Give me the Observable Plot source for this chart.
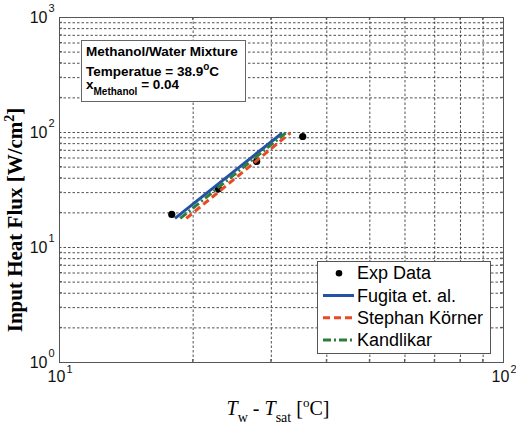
<!DOCTYPE html>
<html>
<head>
<meta charset="utf-8">
<script src="https://cdn.jsdelivr.net/npm/d3@7"></script>
<script src="https://cdn.jsdelivr.net/npm/@observablehq/plot@0.6"></script>
<style>
  body { margin: 0; background: #fff; }
  #chart { width: 516px; height: 432px; }
</style>
</head>
<body>
<div id="chart"></div>
<script>
// Experimental boiling data: wall superheat (°C) vs input heat flux (W/cm²)
const expT = [17.9, 22.8, 27.8, 35.3];
const expQ = [19.4, 32.4, 56.0, 92.3];

// Correlation predictions (end points of each straight log-log line)
const fugitaT = [18.2, 31.7];
const fugitaQ = [17.9, 98.5];
const stephanT = [19.3, 33.1];
const stephanQ = [17.9, 99.0];
const kandlikarT = [18.7, 32.3];
const kandlikarQ = [17.9, 99.0];

// Axis tick values
const xMajor = [10, 100];
const yMajor = [1, 10, 100, 1000];
const xMinor = [20, 30, 40, 50, 60, 70, 80, 90];
const yMinor = [2, 3, 4, 5, 6, 7, 8, 9,
                20, 30, 40, 50, 60, 70, 80, 90,
                200, 300, 400, 500, 600, 700, 800, 900];
const yGridMajor = [10, 100];

const series = [
  {name: "Fugita et. al.", T: fugitaT, Q: fugitaQ, color: "#2352a6", dash: null},
  {name: "Stephan Körner", T: stephanT, Q: stephanQ, color: "#ea4a22", dash: "7,4"},
  {name: "Kandlikar", T: kandlikarT, Q: kandlikarQ, color: "#2f7d3c", dash: "8,3,2,3"}
];

const expData = expT.map((t, i) => ({T: t, Q: expQ[i]}));
const toRows = s => s.T.map((t, i) => ({T: t, Q: s.Q[i]}));

const SANS = "'Liberation Sans', Arial, Helvetica, sans-serif";
const SERIF = "'Liberation Serif', 'Times New Roman', serif";

const gridStyle = {stroke: "#333", strokeWidth: 1, strokeDasharray: "2.5,2", strokeOpacity: 0.85};

const chart = Plot.plot({
  width: 516,
  height: 432,
  marginLeft: 59,
  marginRight: 13,
  marginTop: 17,
  marginBottom: 70,
  x: {type: "log", domain: [10, 100], axis: null},
  y: {type: "log", domain: [1, 1000], axis: null},
  style: {background: "#fff"},
  marks: [
    Plot.ruleY(yMinor.concat(yGridMajor), {y: d => d, ...gridStyle}),
    Plot.ruleX(xMinor, {x: d => d, ...gridStyle}),
    Plot.frame({stroke: "#555", strokeWidth: 1}),
    // y tick labels: base and raised exponent
    Plot.text(yMajor, {y: d => d, frameAnchor: "left", dx: -12, textAnchor: "end",
      text: () => "10", fontSize: 16, fontFamily: SANS, fill: "#111"}),
    Plot.text(yMajor, {y: d => d, frameAnchor: "left", dx: -11, dy: -9, textAnchor: "start",
      text: d => String(Math.round(Math.log10(d))), fontSize: 11, fontFamily: SANS, fill: "#111"}),
    // x tick labels
    Plot.text(xMajor, {x: d => d, frameAnchor: "bottom", dx: -3, dy: 19, textAnchor: "middle",
      text: () => "10", fontSize: 16, fontFamily: SANS, fill: "#111"}),
    Plot.text(xMajor, {x: d => d, frameAnchor: "bottom", dx: 7, dy: 10, textAnchor: "start",
      text: d => String(Math.round(Math.log10(d))), fontSize: 11, fontFamily: SANS, fill: "#111"}),
    // experimental points
    Plot.dot(expData, {x: "T", y: "Q", r: 3.6, fill: "#000", stroke: "none"}),
    // correlation lines
    ...series.map(s => Plot.line(toRows(s), {
      x: "T", y: "Q", stroke: s.color, strokeWidth: 3,
      strokeDasharray: s.dash || undefined, strokeLinecap: "butt"
    }))
  ]
});

document.getElementById("chart").appendChild(chart);

const svg = d3.select(chart);
const xs = chart.scale("x"), ys = chart.scale("y");
const [fx0, fx1] = xs.range, [fy0, fy1] = ys.range; // fy0 = bottom, fy1 = top

// Small inward minor ticks on all four sides of the box
const ticks = svg.append("g").attr("stroke", "#555").attr("stroke-width", 1);
xMinor.forEach(v => {
  const px = xs.apply(v);
  ticks.append("line").attr("x1", px).attr("x2", px).attr("y1", fy0).attr("y2", fy0 - 3);
  ticks.append("line").attr("x1", px).attr("x2", px).attr("y1", fy1).attr("y2", fy1 + 3);
});
yMinor.forEach(v => {
  const py = ys.apply(v);
  ticks.append("line").attr("x1", fx0).attr("x2", fx0 + 3).attr("y1", py).attr("y2", py);
  ticks.append("line").attr("x1", fx1).attr("x2", fx1 - 3).attr("y1", py).attr("y2", py);
});

// Annotation box
const ann = svg.append("g").attr("font-family", SANS).attr("font-weight", "bold")
  .attr("font-size", 13.5).attr("fill", "#000").attr("text-anchor", "start");
ann.append("rect").attr("x", 81.5).attr("y", 40.5).attr("width", 164).attr("height", 61)
  .attr("fill", "#fff").attr("stroke", "#666").attr("stroke-width", 1);
ann.append("text").attr("x", 86).attr("y", 56).text("Methanol/Water Mixture");
const t2 = ann.append("text").attr("x", 86).attr("y", 76);
t2.append("tspan").text("Temperatue = 38.9");
t2.append("tspan").attr("dy", -6).attr("font-size", 10).text("o");
t2.append("tspan").attr("dy", 6).text("C");
const t3 = ann.append("text").attr("x", 86).attr("y", 89);
t3.append("tspan").text("x");
t3.append("tspan").attr("dy", 6).attr("font-size", 10).text("Methanol");
t3.append("tspan").attr("dy", -6).text(" = 0.04");

// Legend
const leg = svg.append("g").attr("font-family", SANS).attr("font-size", 18)
  .attr("fill", "#000").attr("text-anchor", "start");
leg.append("rect").attr("x", 317.5).attr("y", 261.5).attr("width", 173).attr("height", 92)
  .attr("fill", "#fff").attr("stroke", "#555").attr("stroke-width", 1);
const rowY = [273.3, 295.5, 317.7, 339.9];
leg.append("circle").attr("cx", 339).attr("cy", rowY[0]).attr("r", 3.3).attr("fill", "#000");
leg.append("text").attr("x", 357).attr("y", rowY[0] + 6).text("Exp Data");
series.forEach((s, i) => {
  const y = rowY[i + 1];
  leg.append("line").attr("x1", 323).attr("x2", 354).attr("y1", y).attr("y2", y)
    .attr("stroke", s.color).attr("stroke-width", 3)
    .attr("stroke-dasharray", s.dash);
  leg.append("text").attr("x", 357).attr("y", y + 6).text(s.name);
});

// Axis titles
const xl = svg.append("text").attr("x", 278).attr("y", 415).attr("text-anchor", "middle")
  .attr("font-family", SERIF).attr("font-size", 20).attr("fill", "#000");
xl.append("tspan").attr("font-style", "italic").text("T");
xl.append("tspan").attr("dy", 7).attr("font-size", 14).text("w");
xl.append("tspan").attr("dy", -7).text(" - ");
xl.append("tspan").attr("font-style", "italic").text("T");
xl.append("tspan").attr("dy", 7).attr("font-size", 14).text("sat");
xl.append("tspan").attr("dy", -7).text(" [");
xl.append("tspan").attr("dy", -8).attr("font-size", 13).text("o");
xl.append("tspan").attr("dy", 8).text("C]");

const yl = svg.append("text").attr("transform", "translate(22,220) rotate(-90)")
  .attr("text-anchor", "middle").attr("font-family", SERIF).attr("font-weight", "bold")
  .attr("font-size", 21).attr("fill", "#000");
yl.append("tspan").text("Input Heat Flux [W/cm");
yl.append("tspan").attr("dy", -8).attr("font-size", 14).text("2");
yl.append("tspan").attr("dy", 8).text("]");
</script>
</body>
</html>
